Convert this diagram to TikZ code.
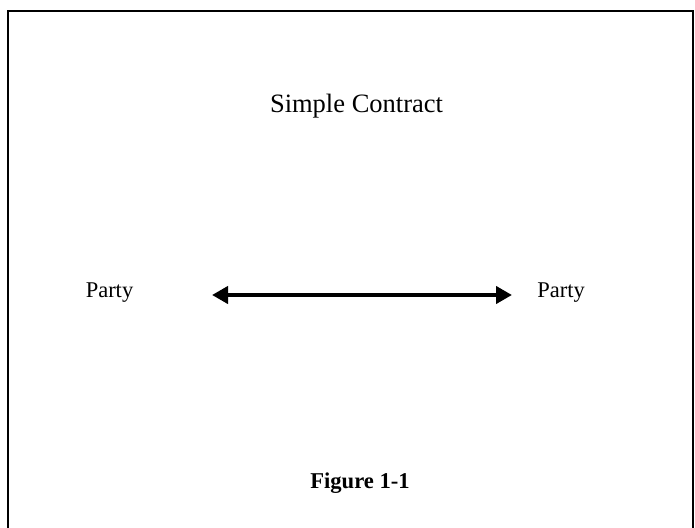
\documentclass[tikz,border=0pt]{standalone}
\usepackage{fontspec}
\setmainfont{Liberation Serif}
\usetikzlibrary{arrows.meta}
\tikzset{
  lbl/.style={inner sep=0pt, anchor=base, font=\fontsize{22.5}{26}\selectfont},
  ttl/.style={inner sep=0pt, anchor=base, font=\fontsize{26.5}{30}\selectfont},
  figcap/.style={inner sep=0pt, anchor=base, font=\fontsize{22.6}{26}\selectfont\bfseries},
  frame/.style={line width=2.6pt},
  dblarrow/.style={line width=4.5pt, {Triangle[length=16pt,width=17pt]}-{Triangle[length=16pt,width=17pt]}}
}
\begin{document}
\begin{tikzpicture}[x=1pt,y=-1pt]
\useasboundingbox (0,0) rectangle (695,527);
\draw[frame] (8,530) -- (8,11) -- (693,11) -- (693,530);
\node[ttl] (title) at (356.5,112) {Simple Contract};
\node[lbl] (pl) at (109.5,297) {Party};
\node[lbl] (pr) at (561,297) {Party};
\node[figcap] (fig) at (360,488) {Figure 1-1};
\coordinate (a) at (212,295);
\coordinate (b) at (512,295);
\draw[dblarrow] (a) -- (b);
\end{tikzpicture}
\end{document}
